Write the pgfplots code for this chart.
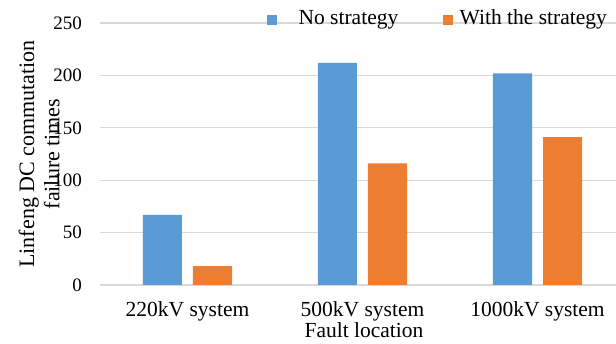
\documentclass[border=0pt]{standalone}
\usepackage{pgfplots}
\pgfplotsset{compat=1.18}
\usepackage{fontspec}
\setmainfont{Liberation Serif}
\usetikzlibrary{calc}

\definecolor{barblue}{RGB}{91,155,213}
\definecolor{barorange}{RGB}{237,125,49}
\definecolor{gridgray}{RGB}{217,217,217}

\begin{document}
\begin{tikzpicture}
\begin{axis}[
  name=ax,
  scale only axis,
  width=516pt, height=262pt,
  ybar=11pt, bar width=39pt,
  xmin=-0.5, xmax=2.4486,
  ymin=0, ymax=250,
  ytick={0,50,100,150,200,250},
  yticklabels={0,50,100,150,200,250},
  xtick={0,1,2},
  xticklabels={220kV system,500kV system,1000kV system},
  axis line style={draw=none},
  major tick length=0pt,
  ymajorgrids,
  grid style={gridgray, line width=1.3pt},
  yticklabel style={font=\fontsize{19}{22}\selectfont, anchor=east, inner sep=0pt, xshift=-18pt},
  xticklabel style={font=\fontsize{21.5}{25}\selectfont, anchor=base, inner sep=0pt, yshift=-31.7pt},
  xlabel={Fault location},
  xlabel style={font=\fontsize{21.5}{25}\selectfont, at={(rel axis cs:0.5116,0)}, anchor=base, inner sep=0pt, yshift=-52.7pt},
  ylabel={Linfeng DC commutation\\failure times},
  ylabel style={font=\fontsize{22}{25}\selectfont, align=center, at={(rel axis cs:-0.118,0.5)}, anchor=center, inner sep=0pt},
  legend columns=2,
  legend style={
    at={(rel axis cs:0.3231,1.0181)}, anchor=west,
    draw=none, fill=none, inner sep=0pt,
    nodes={inner sep=0pt, anchor=base west},
    font=\fontsize{21.5}{25}\selectfont,
    /tikz/every odd column/.append style={column sep=6.7pt},
    /tikz/every even column/.append style={column sep=44.6pt},
  },
  legend image code/.code={\fill[#1] (0pt,0pt) rectangle (10pt,10pt);},
]
\addplot[fill=barblue, draw=none] coordinates {(0,67) (1,212) (2,202)};
\addlegendentry{\hspace{15pt}No strategy}
\addplot[fill=barorange, draw=none] coordinates {(0,18) (1,116) (2,141)};
\addlegendentry{With the strategy}
\end{axis}
\pgfresetboundingbox
\path[use as bounding box] ($(ax.south west)+(-100pt,-59pt)$) rectangle ($(ax.south west)+(516pt,285pt)$);
\end{tikzpicture}
\end{document}
